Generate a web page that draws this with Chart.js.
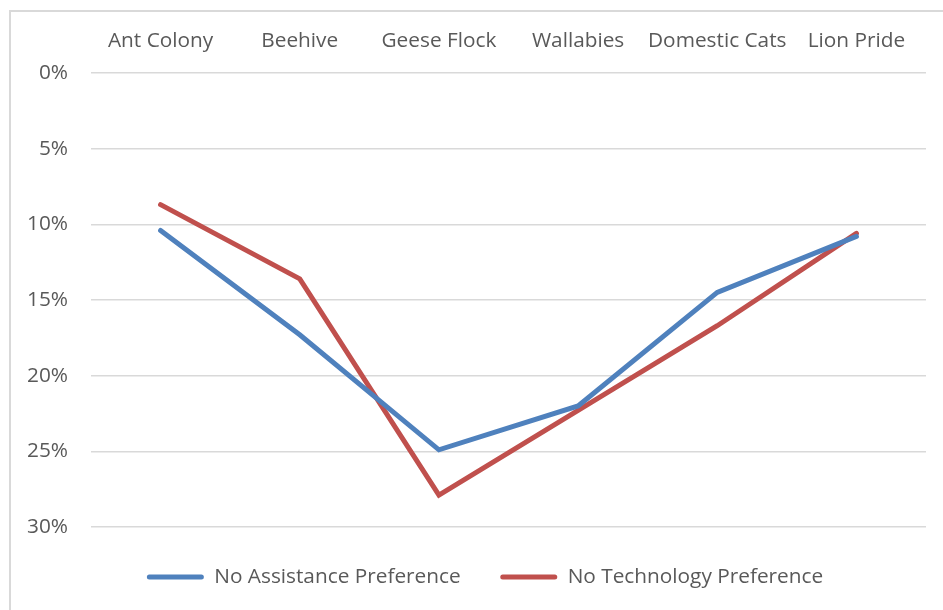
<!DOCTYPE html>
<html>
<head>
<meta charset="utf-8">
<script src="https://cdn.jsdelivr.net/npm/chart.js@4/dist/chart.umd.min.js"></script>
<style>
  html, body { margin: 0; padding: 0; background: #fff; overflow: hidden; }
  #wrap { position: absolute; left: 0; top: 0; width: 943px; height: 610px; }
  #frame { position: absolute; left: 9px; top: 10px; width: 960px; height: 640px; border: 2px solid #d9d9d9; box-sizing: border-box; }
</style>
</head>
<body>
<div id="frame"></div>
<div id="wrap"><canvas id="chart"></canvas></div>
<script>
// ===== DATA =====
const groups = ['Ant Colony', 'Beehive', 'Geese Flock', 'Wallabies', 'Domestic Cats', 'Lion Pride']
const noAssistance = [0.104, 0.173, 0.249, 0.220, 0.145, 0.108]
const noTechnology = [0.087, 0.136, 0.279, 0.223, 0.167, 0.106]
const yTicks = [0, 0.05, 0.10, 0.15, 0.20, 0.25, 0.30]

const C = {
  blue: '#4F81BD',
  red:  '#C0504D',
  text: '#595959',
  grid: '#d9d9d9',
}
const FONT = { family: 'Open Sans', size: 20.8 }

// legend sits a little right of centre in the original
const legendShift = {
  id: 'legendShift',
  afterLayout(chart) {
    const lg = chart.legend
    if (!lg) return
    lg.left += 22; lg.right += 22
  }
}

new Chart(document.getElementById('chart'), {
  type: 'line',
  data: {
    labels: groups,
    datasets: [
      { label: 'No Assistance Preference', data: noAssistance, borderColor: C.blue, backgroundColor: C.blue },
      { label: 'No Technology Preference', data: noTechnology, borderColor: C.red, backgroundColor: C.red },
    ]
  },
  plugins: [legendShift],
  options: {
    responsive: true, maintainAspectRatio: false, animation: false,
    layout: { padding: { left: 0, right: 17, top: 0, bottom: 12.6 } },
    elements: {
      line: { borderWidth: 5, tension: 0, borderCapStyle: 'round', borderJoinStyle: 'miter' },
      point: { radius: 0, hoverRadius: 0 }
    },
    plugins: {
      tooltip: { enabled: false },
      legend: {
        position: 'bottom',
        labels: {
          color: C.text, font: FONT, padding: 39.6,
          boxWidth: 57, boxHeight: 5,
          generateLabels: chart => chart.data.datasets.map((ds, i) => ({
            text: ds.label, fillStyle: ds.borderColor, strokeStyle: ds.borderColor,
            lineWidth: 0, borderRadius: 2.5, fontColor: C.text, datasetIndex: i, hidden: false
          }))
        }
      }
    },
    scales: {
      x: {
        position: 'top',
        offset: true,
        grid: { display: false, drawTicks: false },
        border: { display: false },
        ticks: { color: C.text, font: FONT, padding: 19, maxRotation: 0, autoSkip: false },
        afterFit: s => { s.height = 73 }
      },
      y: {
        reverse: true, min: 0, max: 0.30,
        afterBuildTicks: s => { s.ticks = yTicks.map(v => ({ value: v })) },
        grid: { color: C.grid, lineWidth: 1.5, drawTicks: false },
        border: { display: false },
        ticks: { color: C.text, font: FONT, padding: 23, callback: v => Math.round(v * 100) + '%' },
        afterFit: s => { s.width = 91 }
      }
    }
  }
})
</script>
</body>
</html>
